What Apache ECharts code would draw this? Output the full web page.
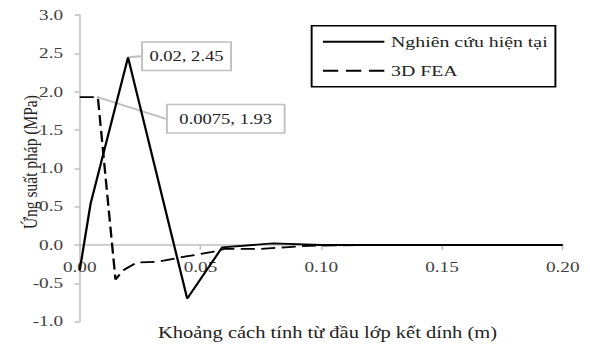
<!DOCTYPE html>
<html>
<head>
<meta charset="utf-8">
<script src="https://cdn.jsdelivr.net/npm/echarts@6/dist/echarts.min.js"></script>
<style>
html,body{margin:0;padding:0;background:#fff;overflow:hidden;}
#wrap{width:590px;height:354px;overflow:hidden;}
#c{width:461px;height:354px;transform:scaleX(1.27983);transform-origin:0 0;}
</style>
</head>
<body>
<div id="wrap"><div id="c"></div></div>
<script>
// ---- data ----
var seriesNames = ['Nghiên cứu hiện tại', '3D FEA'];
var solidX = [0, 0.0045, 0.02, 0.0445, 0.059, 0.08, 0.1, 0.15, 0.2];
var solidY = [-0.33, 0.54, 2.45, -0.70, -0.03, 0.02, 0.0, 0.0, 0.0];
var dashX = [0, 0.0075, 0.0148, 0.018, 0.0235, 0.032, 0.044, 0.055, 0.06, 0.075, 0.085, 0.095, 0.12, 0.15];
var dashY = [1.93, 1.93, -0.45, -0.33, -0.23, -0.22, -0.15, -0.09, -0.05, -0.05, -0.03, -0.01, 0.0, 0.0];
var solidLabelIndex = 2;   // "0.02, 2.45"
var dashLabelIndex = 1;    // "0.0075, 1.93"
var xTitle = 'Khoảng cách tính từ đầu lớp kết dính (m)';
var yTitle = 'Ứng suất pháp (MPa)';

var FONT = 'Liberation Serif';
function labelBox(pad) {
  return {
    show: true, position: 'right', distance: 0,
    fontFamily: FONT, fontSize: 14.5, color: '#222',
    backgroundColor: '#fff', borderColor: '#c0c0c0', borderWidth: 1.5,
    padding: pad,
    formatter: function (p) { return p.value[0] + ', ' + p.value[1]; }
  };
}
function build(xs, ys, labelIdx, pad) {
  return xs.map(function (x, i) {
    if (i === labelIdx) {
      return { value: [x, ys[i]], symbol: 'circle', symbolSize: 1, label: labelBox(pad) };
    }
    return [x, ys[i]];
  });
}

var chart = echarts.init(document.getElementById('c'), null, { renderer: 'svg' });
chart.setOption({
  animation: false,
  backgroundColor: '#fff',
  textStyle: { fontFamily: FONT },
  grid: { left: 62.3, right: 21.3, top: 15.2, bottom: 32.4, containLabel: false },
  title: {
    text: xTitle, left: 123.5, top: 325, padding: 0,
    textStyle: { fontFamily: FONT, fontSize: 16, fontWeight: 'normal', color: '#222' }
  },
  graphic: [{
    type: 'text', x: 24, y: 162, rotation: Math.PI / 2, silent: true,
    style: { text: yTitle, font: 'normal 15.5px "Liberation Serif"', fontFamily: FONT, fontSize: 15.5, fill: '#222',
      align: 'center', verticalAlign: 'middle', textAlign: 'center', textVerticalAlign: 'middle' }
  }],
  legend: {
    orient: 'vertical', left: 243.5, top: 25.7,
    padding: [8, 6, 8, 8.8],
    itemWidth: 48.4, itemHeight: 2, itemGap: 13,
    borderColor: '#000', borderWidth: 1.5,
    textStyle: { fontFamily: FONT, fontSize: 15.5, color: '#222' },
    data: [
      { name: seriesNames[0], icon: 'path://M0,0H48V2H0Z' },
      { name: seriesNames[1], icon: 'path://M0,0H12V2H0Z M18,0H30V2H18Z M36,0H48V2H36Z' }
    ]
  },
  xAxis: {
    type: 'value', min: 0, max: 0.2, interval: 0.05, position: 'bottom', offset: 0,
    axisLine: { onZero: false, lineStyle: { color: '#c0c0c0', width: 1.5 } },
    axisTick: { show: true, length: 5, lineStyle: { color: '#c0c0c0', width: 1.2 } },
    axisLabel: { margin: 15, color: '#404040', fontFamily: FONT, fontSize: 15,
      formatter: function (v) { return v.toFixed(2); } },
    splitLine: { show: false }
  },
  yAxis: {
    type: 'value', min: -1, max: 3, interval: 0.5,
    axisLine: { show: true, onZero: false, lineStyle: { color: '#c0c0c0', width: 1.2 } },
    axisTick: { show: true, length: 4, lineStyle: { color: '#c0c0c0', width: 1.5 } },
    axisLabel: { margin: 13, color: '#404040', fontFamily: FONT, fontSize: 15,
      formatter: function (v) { return v.toFixed(1); } },
    splitLine: { show: false }
  },
  series: [
    {
      name: seriesNames[0], type: 'line', symbol: 'none',
      lineStyle: { color: '#000', width: 1.8, type: 'solid' },
      itemStyle: { color: '#000' },
      data: build(solidX, solidY, solidLabelIndex, [6, 5, 6, 5]),
      labelLayout: { dx: 11.2, dy: -1 },
      labelLine: { show: true, lineStyle: { color: '#c0c0c0', width: 2 } },
      z: 3
    },
    {
      name: seriesNames[1], type: 'line', symbol: 'none',
      lineStyle: { color: '#000', width: 1.8, type: [11, 5] },
      itemStyle: { color: '#000' },
      data: build(dashX, dashY, dashLabelIndex, [6, 9, 6, 9]),
      labelLayout: { dx: 54.2, dy: 21.7 },
      labelLine: { show: true, lineStyle: { color: '#c0c0c0', width: 2 } },
      z: 2
    }
  ]
});
// place the x axis on y = 0 using the library's own y scale
var yZero = chart.convertToPixel({ yAxisIndex: 0 }, 0);
var yBottom = chart.convertToPixel({ yAxisIndex: 0 }, -1);
chart.setOption({ xAxis: { offset: yZero - yBottom } });
</script>
</body>
</html>
